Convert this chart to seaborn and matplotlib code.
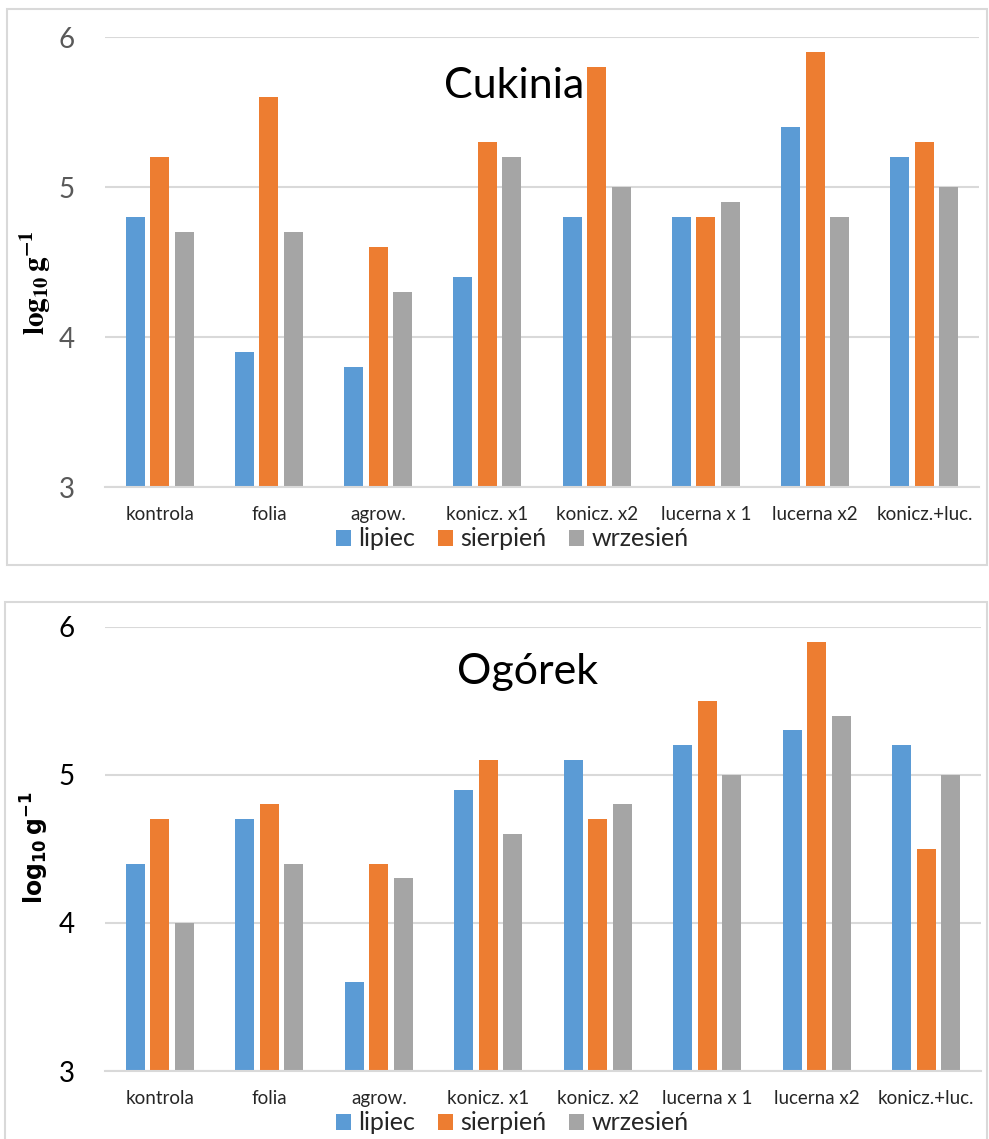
import matplotlib
matplotlib.use("Agg")
import matplotlib.pyplot as plt
from matplotlib.patches import Rectangle
import seaborn as sns
import pandas as pd

categories = ["kontrola", "folia", "agrow.", "konicz. x1", "konicz. x2",
              "lucerna x 1", "lucerna x2", "konicz.+luc."]
months = ["lipiec", "sierpień", "wrzesień"]

cukinia_lipiec = [4.8, 3.9, 3.8, 4.4, 4.8, 4.8, 5.4, 5.2]
cukinia_sierpien = [5.2, 5.6, 4.6, 5.3, 5.8, 4.8, 5.9, 5.3]
cukinia_wrzesien = [4.7, 4.7, 4.3, 5.2, 5.0, 4.9, 4.8, 5.0]

ogorek_lipiec = [4.4, 4.7, 3.6, 4.9, 5.1, 5.2, 5.3, 5.2]
ogorek_sierpien = [4.7, 4.8, 4.4, 5.1, 4.7, 5.5, 5.9, 4.5]
ogorek_wrzesien = [4.0, 4.4, 4.3, 4.6, 4.8, 5.0, 5.4, 5.0]

y_ticks = [3, 4, 5, 6]
colors = ["#5B9BD5", "#ED7D31", "#A5A5A5"]


def long_df(a, b, c):
    rows = []
    for m, vals in zip(months, [a, b, c]):
        for cat, v in zip(categories, vals):
            rows.append({"cat": cat, "month": m, "val": v})
    return pd.DataFrame(rows)


sns.set_theme(style="white")
plt.rcParams["font.family"] = ["Lato", "DejaVu Sans"]

W, H = 989, 1139
fig = plt.figure(figsize=(W / 100, H / 100), dpi=100)

# panel frames
for (x0, y0, x1, y1) in [(7, 9, 987, 565), (5, 602, 987, 1145)]:
    fig.patches.append(Rectangle((x0 / W, 1 - y1 / H), (x1 - x0) / W, (y1 - y0) / H,
                                 transform=fig.transFigure, fill=False,
                                 edgecolor="#d9d9d9", linewidth=1.5))

panels = [
    dict(data=long_df(cukinia_lipiec, cukinia_sierpien, cukinia_wrzesien),
         rect=(105 / W, 1 - 487 / H, 874 / W, 450 / H), title="Cukinia",
         title_xy=(514 / W, 1 - 86 / H), tick_color="#595959",
         ylabel_font="stix", ylabel_size=21, ylabel_y=1 - 283 / H,
         legend_y=1 - 539 / H),
    dict(data=long_df(ogorek_lipiec, ogorek_sierpien, ogorek_wrzesien),
         rect=(105 / W, 1 - 1071 / H, 876 / W, 444.3 / H), title="Ogórek",
         title_xy=(528 / W, 1 - 672 / H), tick_color="#000000",
         ylabel_font="dejavusans", ylabel_size=17, ylabel_y=1 - 848 / H,
         legend_y=1 - 1123 / H),
]

for p in panels:
    ax = fig.add_axes(p["rect"])
    sns.barplot(data=p["data"], x="cat", y="val", hue="month", palette=colors,
                width=0.672, gap=0.22, ax=ax, legend=True, saturation=1,
                edgecolor="none")
    ax.set_ylim(3, 6)
    ax.set_yticks(y_ticks)
    ax.set_yticklabels([str(t) for t in y_ticks], fontsize=20, color=p["tick_color"])
    ax.tick_params(axis="y", length=0, pad=22)
    ax.tick_params(axis="x", length=0, pad=14, labelsize=13.5, labelcolor="#262626")
    ax.set_xlim(-0.5, 7.5)
    ax.grid(axis="y", color="#d9d9d9", linewidth=1.5)
    ax.set_axisbelow(True)
    for s in ["top", "right", "left"]:
        ax.spines[s].set_visible(False)
    ax.spines["bottom"].set_color("#d9d9d9")
    ax.spines["bottom"].set_linewidth(1.5)
    ax.set_xlabel("")
    ax.set_ylabel("")
    fig.text(35 / W, p["ylabel_y"], r"$\mathbf{log_{10}\,g^{-1}}$",
             rotation=90, ha="center", va="center", fontsize=p["ylabel_size"],
             math_fontfamily=p["ylabel_font"], color="black")
    fig.text(p["title_xy"][0], p["title_xy"][1], p["title"], ha="center",
             va="center", fontsize=31, color="black")
    handles, labels = ax.get_legend_handles_labels()
    ax.get_legend().remove()
    fig.legend(handles, labels, loc="center", bbox_to_anchor=(512 / W, p["legend_y"]),
               ncol=3, frameon=False, fontsize=18, handlelength=0.6,
               handleheight=0.6, handletextpad=0.3, columnspacing=0.9,
               borderaxespad=0)

fig.savefig("out.png", dpi=100)
